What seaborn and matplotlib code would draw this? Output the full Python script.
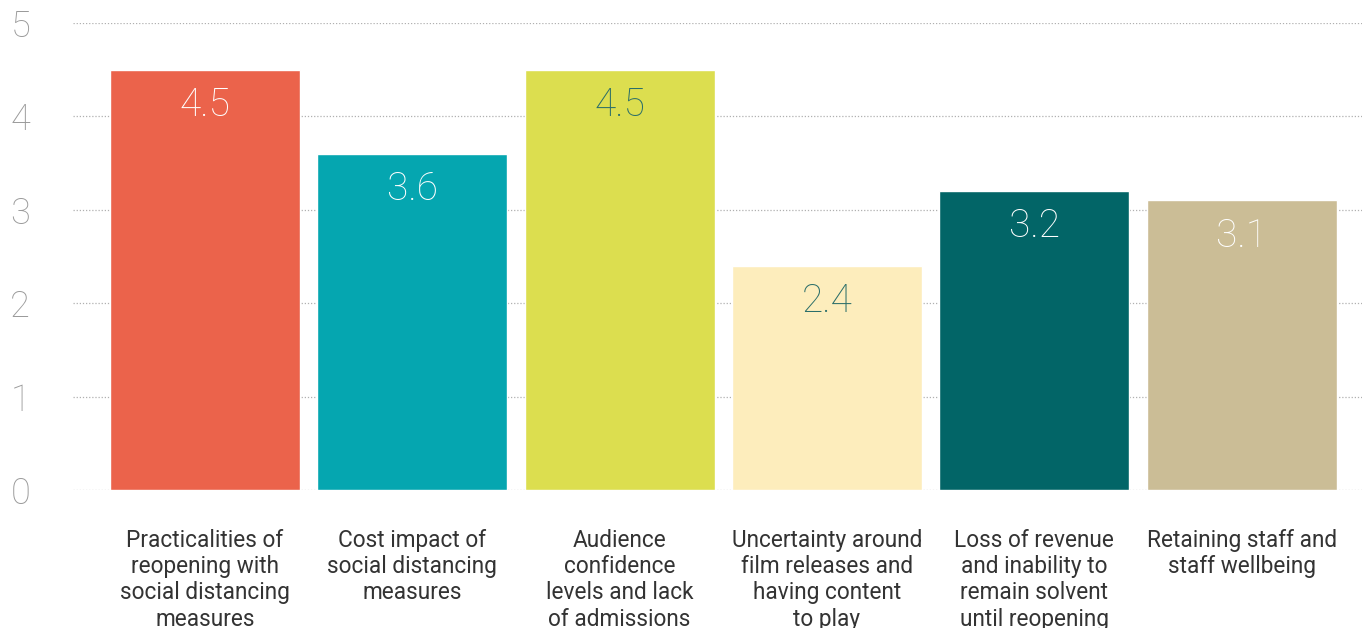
import matplotlib
matplotlib.use("Agg")
import matplotlib.pyplot as plt
import seaborn as sns
import pandas as pd

categories = [
    "Practicalities of\nreopening with\nsocial distancing\nmeasures",
    "Cost impact of\nsocial distancing\nmeasures",
    "Audience\nconfidence\nlevels and lack\nof admissions",
    "Uncertainty around\nfilm releases and\nhaving content\nto play",
    "Loss of revenue\nand inability to\nremain solvent\nuntil reopening",
    "Retaining staff and\nstaff wellbeing",
]
values = [4.5, 3.6, 4.5, 2.4, 3.2, 3.1]
bar_colors = ["#EB634B", "#05A6B0", "#DCDE4F", "#FDEDBC", "#026567", "#CBBD96"]
label_colors = ["#FFFFFF", "#FFFFFF", "#2B6E69", "#2B6E69", "#FFFFFF", "#FFFFFF"]
yticks = [0, 1, 2, 3, 4, 5]

sns.set_theme(style="white")
plt.rcParams["font.family"] = ["Roboto", "DejaVu Sans"]

df = pd.DataFrame({"category": categories, "value": values})

fig = plt.figure(figsize=(13.62, 6.28), dpi=100)
ax = fig.add_axes([73 / 1362, 138 / 628, 1 - 73 / 1362, (628 - 23 - 138) / 628])

sns.barplot(data=df, x="category", y="value", hue="category",
            palette=bar_colors, legend=False, width=0.916, ax=ax,
            saturation=1, zorder=3)

ax.set_ylim(0, 5)
ax.set_xlim(-0.636, 5.58)
ax.set_yticks(yticks)
ax.set_yticklabels([str(t) for t in yticks], fontsize=26, fontweight="light",
                   color="#9a9a9a")
ax.tick_params(axis="y", length=0, pad=38)
for lbl in ax.get_yticklabels():
    lbl.set_horizontalalignment("center")
ax.tick_params(axis="x", length=0, pad=28)
for lbl in ax.get_xticklabels():
    lbl.set_fontsize(16.3)
    lbl.set_color("#333333")
    lbl.set_linespacing(1.18)
    lbl.set_verticalalignment("top")
ax.set_xlabel("")
ax.set_ylabel("")
ax.grid(axis="y", linestyle=(0, (1, 1.5)), color="#b0b0b0", linewidth=0.9, zorder=0)
ax.grid(axis="x", visible=False)
for s in ax.spines.values():
    s.set_visible(False)

for i, (v, c) in enumerate(zip(values, label_colors)):
    ax.text(i, v - 0.18, f"{v}", ha="center", va="top", fontsize=28,
            fontweight="light", color=c, zorder=5)

fig.savefig("out.png", dpi=100)
